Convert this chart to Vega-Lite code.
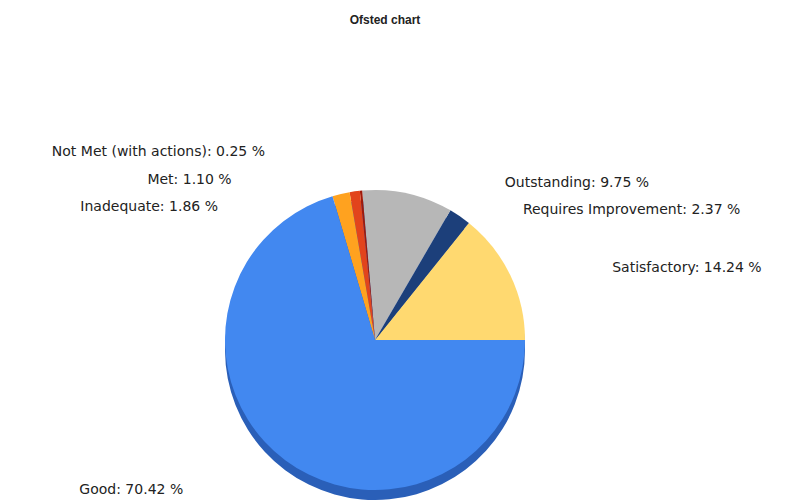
{
  "$schema": "https://vega.github.io/schema/vega-lite/v6.json",
  "autosize": "none",
  "width": 750,
  "height": 320,
  "padding": {"left": 0, "top": 180, "right": 48, "bottom": 0},
  "background": "white",
  "title": {"text": "Ofsted chart", "fontSize": 12, "font": "Liberation Sans", "fontWeight": "bold", "color": "#222222", "anchor": "middle", "offset": 118, "dx": 10},
  "data": {"values": [
    {"category": "Satisfactory", "value": 14.24, "rank": 1},
    {"category": "Requires Improvement", "value": 2.37, "rank": 2},
    {"category": "Outstanding", "value": 9.75, "rank": 3},
    {"category": "Not Met (with actions)", "value": 0.25, "rank": 4},
    {"category": "Met", "value": 1.10, "rank": 5},
    {"category": "Inadequate", "value": 1.86, "rank": 6},
    {"category": "Good", "value": 70.42, "rank": 7}
  ]},
  "transform": [{"calculate": "datum.category + ': ' + format(datum.value, '.2f') + ' %'", "as": "label"}],
  "encoding": {
    "theta": {"field": "value", "type": "quantitative", "stack": true, "scale": {"range": [1.5707963, -4.7123890]}},
    "order": {"field": "rank", "type": "quantitative"},
    "detail": {"field": "category"}
  },
  "layer": [
    {"mark": {"type": "arc", "outerRadius": 150, "yOffset": 10, "color": "#2a5fb8"}},
    {"mark": {"type": "arc", "outerRadius": 150},
     "encoding": {"color": {"field": "category", "type": "nominal", "legend": null,
       "scale": {"domain": ["Satisfactory", "Requires Improvement", "Outstanding", "Not Met (with actions)", "Met", "Inadequate", "Good"],
                 "range": ["#ffd970", "#1c3f7a", "#b7b7b7", "#a01a0a", "#e2441c", "#ffa21f", "#4288f0"]}}}},
    {"mark": {"type": "text", "radius": 150, "align": "left", "baseline": "middle", "dx": 102, "dy": -7, "font": "DejaVu Sans", "fontSize": 14, "color": "#222222"},
     "encoding": {"text": {"condition": {"test": "datum.category === 'Satisfactory'", "field": "label"}, "value": ""}}},
    {"mark": {"type": "text", "radius": 150, "align": "left", "baseline": "middle", "dx": 63, "dy": -6, "font": "DejaVu Sans", "fontSize": 14, "color": "#222222"},
     "encoding": {"text": {"condition": {"test": "datum.category === 'Requires Improvement'", "field": "label"}, "value": ""}}},
    {"mark": {"type": "text", "radius": 150, "align": "left", "baseline": "middle", "dx": 97, "dy": -11, "font": "DejaVu Sans", "fontSize": 14, "color": "#222222"},
     "encoding": {"text": {"condition": {"test": "datum.category === 'Outstanding'", "field": "label"}, "value": ""}}},
    {"mark": {"type": "text", "radius": 150, "align": "right", "baseline": "middle", "dx": -96, "dy": -39, "font": "DejaVu Sans", "fontSize": 14, "color": "#222222"},
     "encoding": {"text": {"condition": {"test": "datum.category === 'Not Met (with actions)'", "field": "label"}, "value": ""}}},
    {"mark": {"type": "text", "radius": 150, "align": "right", "baseline": "middle", "dx": -123, "dy": -11, "font": "DejaVu Sans", "fontSize": 14, "color": "#222222"},
     "encoding": {"text": {"condition": {"test": "datum.category === 'Met'", "field": "label"}, "value": ""}}},
    {"mark": {"type": "text", "radius": 150, "align": "right", "baseline": "middle", "dx": -123, "dy": 13, "font": "DejaVu Sans", "fontSize": 14, "color": "#222222"},
     "encoding": {"text": {"condition": {"test": "datum.category === 'Inadequate'", "field": "label"}, "value": ""}}},
    {"mark": {"type": "text", "radius": 150, "align": "right", "baseline": "middle", "dx": -102, "dy": 30, "font": "DejaVu Sans", "fontSize": 14, "color": "#222222"},
     "encoding": {"text": {"condition": {"test": "datum.category === 'Good'", "field": "label"}, "value": ""}}}
  ],
  "config": {"view": {"stroke": null}}
}
